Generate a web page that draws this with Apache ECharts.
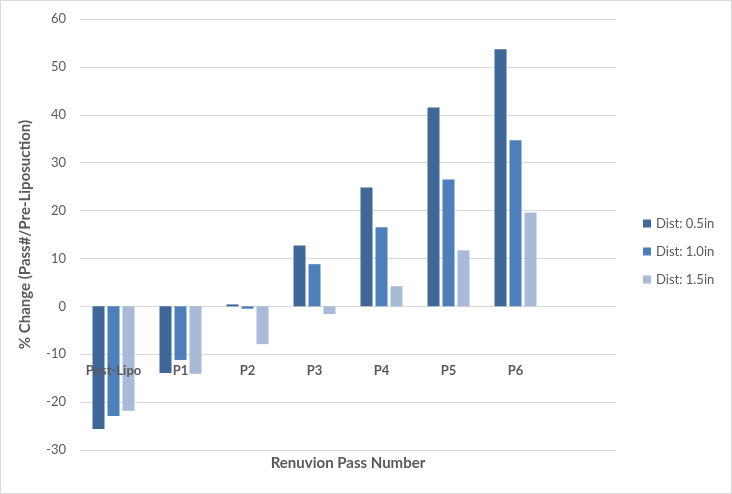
<!DOCTYPE html>
<html>
<head>
<meta charset="utf-8">
<script src="https://cdn.jsdelivr.net/npm/echarts@6/dist/echarts.min.js"></script>
<style>
  html, body { margin: 0; padding: 0; background: #fff; }
  #main { width: 732px; height: 494px; box-sizing: border-box; border: 1px solid #d9d9d9; }
</style>
</head>
<body>
<div id="main"></div>
<script>
// categories (last slot is empty, like the original)
const passes = ['Post-Lipo', 'P1', 'P2', 'P3', 'P4', 'P5', 'P6', ''];
const seriesNames = ['Dist: 0.5in', 'Dist: 1.0in', 'Dist: 1.5in'];
const dist05 = [-25.6, -13.9, 0.4, 12.7, 24.8, 41.5, 53.7, null];
const dist10 = [-22.9, -11.2, -0.5, 8.8, 16.5, 26.5, 34.7, null];
const dist15 = [-21.8, -14.1, -7.9, -1.6, 4.2, 11.7, 19.6, null];
const colors = ['#3f6797', '#4e7fbb', '#a9b9d8'];

const font = 'Lato, "Open Sans", sans-serif';
const myChart = echarts.init(document.getElementById('main'));

const option = {
  animation: false,
  color: colors,
  grid: { left: 79, right: 115, top: 18, bottom: 43, containLabel: false, outerBoundsMode: 'none' },
  legend: {
    orient: 'vertical',
    left: 637,
    top: 211,
    itemWidth: 8,
    itemHeight: 8,
    itemGap: 15,
    icon: 'rect',
    textStyle: { color: '#595959', fontSize: 13, fontFamily: font },
    data: seriesNames
  },
  xAxis: {
    type: 'category',
    data: passes,
    position: 'bottom',
    offset: -144,   // category labels sit under the zero line
    z: 10,          // labels drawn over the bars
    axisLine: { show: false, onZero: false },
    axisTick: { show: false },
    axisLabel: {
      color: '#595959', fontSize: 13, fontWeight: 'bold', fontFamily: font,
      margin: 58, interval: 0
    },
    name: 'Renuvion Pass Number',
    nameLocation: 'middle',
    nameGap: 150,
    nameTextStyle: { color: '#595959', fontSize: 15, fontWeight: 'bold', fontFamily: font }
  },
  yAxis: {
    type: 'value',
    min: -30,
    max: 60,
    interval: 10,
    axisLine: { show: false },
    axisTick: { show: false },
    splitLine: { lineStyle: { color: '#d9d9d9', width: 1 } },
    axisLabel: { color: '#595959', fontSize: 13, fontFamily: font, margin: 14 },
    name: '% Change (Pass#/Pre-Liposuction)',
    nameLocation: 'middle',
    nameGap: 47,
    nameTextStyle: { color: '#595959', fontSize: 15, fontWeight: 'bold', fontFamily: font }
  },
  series: [
    { name: seriesNames[0], type: 'bar', data: dist05, barWidth: 12, barGap: '25%' },
    { name: seriesNames[1], type: 'bar', data: dist10, barWidth: 12, barGap: '25%' },
    { name: seriesNames[2], type: 'bar', data: dist15, barWidth: 12, barGap: '25%' }
  ]
};
myChart.setOption(option);
</script>
</body>
</html>
